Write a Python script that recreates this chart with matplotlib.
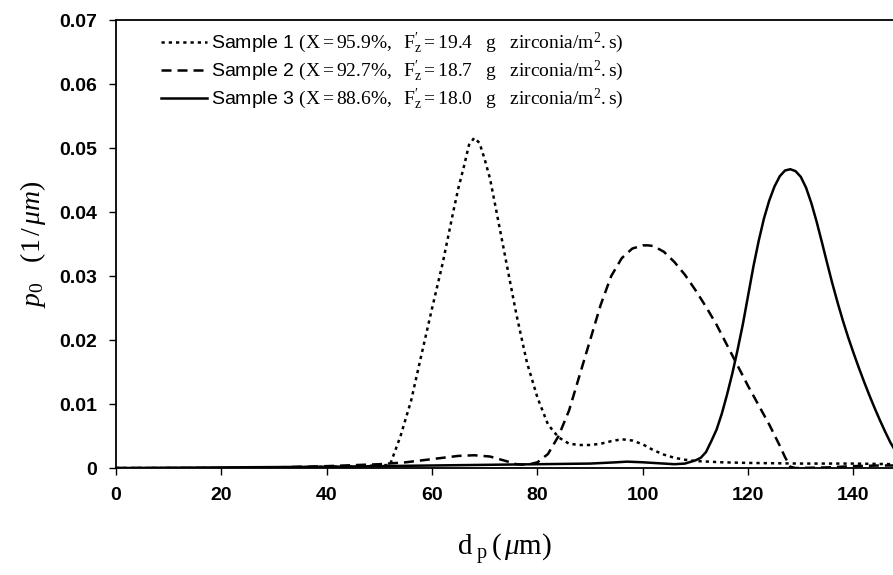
import matplotlib
matplotlib.use("Agg")
import matplotlib.pyplot as plt
from matplotlib.ticker import FuncFormatter

plt.rcParams['mathtext.fontset'] = 'custom'
plt.rcParams['mathtext.rm'] = 'Liberation Serif'
plt.rcParams['mathtext.it'] = 'Liberation Serif:italic'
plt.rcParams['mathtext.bf'] = 'Liberation Serif:bold'

# sample 1 (dotted)
x1 = [0, 10, 20, 30, 40, 45, 50, 52, 54, 56, 58, 60, 62, 64, 65, 66, 67, 68, 69, 70,
      71, 72, 74, 76, 78, 80, 82, 84, 86, 88, 90, 92, 94, 96, 98, 100, 102, 104, 106,
      108, 110, 115, 120, 130, 140, 148]
y1 = [0, 0, 0, 0.0001, 0.0002, 0.0003, 0.0004, 0.0005, 0.005, 0.0105, 0.0178, 0.025,
      0.032, 0.040, 0.0438, 0.047, 0.0505, 0.0516, 0.0508, 0.0482, 0.0452, 0.041,
      0.0325, 0.024, 0.0165, 0.011, 0.0068, 0.0048, 0.0038, 0.0036, 0.0036, 0.0038,
      0.0042, 0.0045, 0.0043, 0.0037, 0.0028, 0.0021, 0.0016, 0.0013, 0.0011, 0.0009,
      0.0008, 0.0007, 0.0007, 0.0006]

# sample 2 (dashed)
x2 = [0, 20, 30, 40, 50, 55, 60, 65, 68, 71, 74, 76, 78, 80, 82, 84, 86, 88, 90, 92,
      94, 96, 98, 100, 101, 102, 104, 106, 108, 110, 112, 114, 116, 118, 120, 122, 124,
      126, 127, 128, 129, 135, 140, 145, 148]
y2 = [0, 0, 0.0001, 0.0003, 0.0006, 0.0009, 0.0014, 0.0019, 0.002, 0.0018, 0.0011,
      0.0006, 0.0005, 0.0009, 0.0022, 0.005, 0.009, 0.0145, 0.020, 0.0255, 0.030,
      0.0328, 0.0343, 0.0348, 0.0348, 0.0347, 0.0338, 0.0322, 0.0302, 0.0278, 0.0252,
      0.0224, 0.0192, 0.016, 0.0128, 0.0098, 0.0068, 0.0035, 0.0017, 0.0002, 0,
      0.0001, 0.0003, 0.0004, 0.0004]

# sample 3 (solid)
x3 = [0, 40, 60, 80, 90, 95, 97, 100, 104, 106, 108, 110, 111, 112, 113, 114, 115,
      116, 117, 118, 119, 120, 121, 122, 123, 124, 125, 126, 127, 128, 129, 130, 131,
      132, 133, 134, 135, 136, 137, 138, 139, 140, 141, 142, 143, 144, 145, 146, 147,
      148]
y3 = [0, 0.0002, 0.0004, 0.0006, 0.0007, 0.0009, 0.001, 0.0009, 0.0007, 0.0006,
      0.0007, 0.0012, 0.0016, 0.0025, 0.0042, 0.006, 0.0085, 0.0115, 0.0148, 0.0185,
      0.0225, 0.027, 0.0315, 0.0355, 0.039, 0.0418, 0.044, 0.0456, 0.0465, 0.0467,
      0.0464, 0.0455, 0.0438, 0.0414, 0.0385, 0.0353, 0.0320, 0.0288, 0.0258, 0.0230,
      0.0204, 0.0180, 0.0157, 0.0135, 0.0114, 0.0094, 0.0075, 0.0057, 0.0040, 0.0026]

labels = [
    r"Sample 1 $\mathrm{(X = 95.9\%,\ \ F^{\prime}_{z} = 19.4\ \ \ g\ \ \ zirconia/m^{2}.s)}$",
    r"Sample 2 $\mathrm{(X = 92.7\%,\ \ F^{\prime}_{z} = 18.7\ \ \ g\ \ \ zirconia/m^{2}.s)}$",
    r"Sample 3 $\mathrm{(X = 88.6\%,\ \ F^{\prime}_{z} = 18.0\ \ \ g\ \ \ zirconia/m^{2}.s)}$",
]
xticks = [0, 20, 40, 60, 80, 100, 120, 140]
yticks = [0, 0.01, 0.02, 0.03, 0.04, 0.05, 0.06, 0.07]

fig = plt.figure(figsize=(8.93, 5.75), dpi=100)
ax = fig.add_axes([0.130, 0.186, 0.870, 0.779])

ax.plot(x1, y1, color='black', lw=1.8, linestyle=(0, (1.3, 1.6)), label=labels[0])
ax.plot(x2, y2, color='black', lw=1.8, linestyle=(0, (4, 2.4)), label=labels[1])
ax.plot(x3, y3, color='black', lw=1.8, linestyle='-', label=labels[2])

ax.set_xlim(0, 147.5)
ax.set_ylim(0, 0.07)
ax.set_xticks(xticks)
ax.set_yticks(yticks)
ax.yaxis.set_major_formatter(FuncFormatter(lambda v, p: '0' if v == 0 else '%.2f' % v))
ax.tick_params(direction='out', length=5, width=1, pad=9)
for lab in ax.get_xticklabels() + ax.get_yticklabels():
    lab.set_fontfamily('Liberation Sans')
    lab.set_fontweight('bold')
    lab.set_fontsize(14)

ax.spines['right'].set_visible(False)
for s in ['left', 'bottom', 'top']:
    ax.spines[s].set_linewidth(1.3)

ax.set_xlabel(r"$\mathrm{d}_{\mathrm{\ p}}\,\mathrm{(}\,\mu\mathrm{m)}$", fontsize=21, labelpad=20)
ax.set_ylabel(r"$p_0\ \ \ (1\,/\,\mu m)$", fontsize=20, labelpad=8)

leg = ax.legend(loc='upper left', bbox_to_anchor=(0.035, 1.015), frameon=False,
                handlelength=2.4, handletextpad=0.2, labelspacing=0.15,
                prop={'family': 'Liberation Sans', 'size': 14})

fig.savefig('out.png', dpi=100)
